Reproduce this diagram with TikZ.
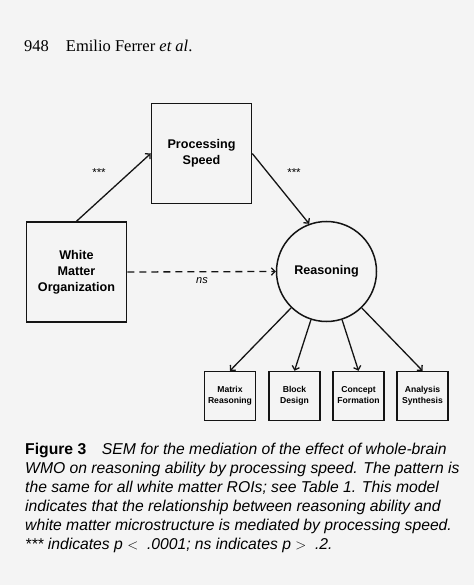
\documentclass[tikz,border=0pt]{standalone}
\usepackage{fontspec}
\setmainfont{Liberation Serif}
\setsansfont{Liberation Sans}
\usepackage{xcolor}
\definecolor{bggray}{RGB}{244,244,244}
\definecolor{ink}{RGB}{20,20,20}
\usetikzlibrary{arrows.meta,positioning}

\begin{document}
\begin{tikzpicture}[x=1pt,y=-1pt,
  bigbox/.style={draw=ink,line width=1.5pt,minimum width=100pt,minimum height=100pt,inner sep=0pt,align=center,font=\sffamily\bfseries\fontsize{12.6}{16}\selectfont},
  latent/.style={draw=ink,line width=1.5pt,circle,minimum size=100pt,inner sep=0pt,font=\sffamily\bfseries\fontsize{12.6}{16}\selectfont},
  testbox/.style={draw=ink,line width=1.5pt,minimum width=51pt,minimum height=49pt,inner sep=0pt,align=center,text height=17pt,text depth=2pt,font=\sffamily\bfseries\fontsize{8.6}{11}\selectfont},
  path/.style={draw=ink,line width=1.3pt,-{Straight Barb[length=3.5pt,width=7.5pt]}},
  sig/.style={font=\sffamily\fontsize{11.5}{12}\selectfont}]
  % page background and size
  \fill[bggray] (0,0) rectangle (474,585);
  \useasboundingbox (0,0) rectangle (474,585);

  % running head
  \node[anchor=base west,inner sep=0pt,font=\fontsize{16.5}{19}\selectfont] (head) at (24,52) {948\hspace{17pt}Emilio Ferrer \textit{et al}.};

  % structural model
  \node[bigbox] (wmo) at (76.5,272) {White\\Matter\\Organization};
  \node[bigbox] (ps) at (201.5,153.5) {Processing\\Speed};
  \node[latent] (reas) at (326.5,271.5) {Reasoning};

  \draw[path] (wmo.north) -- (ps.west);
  \draw[path] (ps.east) -- (reas.110);
  \draw[path,dash pattern=on 7pt off 5pt] (wmo.east) -- (reas.west);

  \node[sig] (s1) at (99,173) {***};
  \node[sig] (s2) at (294,173) {***};
  \node[font=\sffamily\itshape\fontsize{11}{12}\selectfont] (ns) at (202,281) {ns};

  % measurement model
  \node[testbox] (mr) at (230,396) {Matrix\\Reasoning};
  \node[testbox] (bd) at (294.5,396) {Block\\Design};
  \node[testbox] (cf) at (358.5,396) {Concept\\Formation};
  \node[testbox] (as) at (422.5,396) {Analysis\\Synthesis};

  \foreach \t in {mr,bd,cf,as}
    \draw[path] (reas) -- (\t.north);

  % caption
  \node[anchor=north west,inner sep=0pt,align=left,font=\sffamily\itshape\fontsize{15.7}{19}\selectfont] (cap) at (25,443)
    {{\upshape\bfseries Figure 3}\quad SEM for the mediation of the effect of whole-brain\\
     WMO on reasoning ability by processing speed. The pattern is\\
     the same for all white matter ROIs; see Table 1. This model\\
     indicates that the relationship between reasoning ability and\\
     white matter microstructure is mediated by processing speed.\\
     *** indicates p $<$ \ .0001; ns indicates p $>$ \ .2.};
\end{tikzpicture}
\end{document}
